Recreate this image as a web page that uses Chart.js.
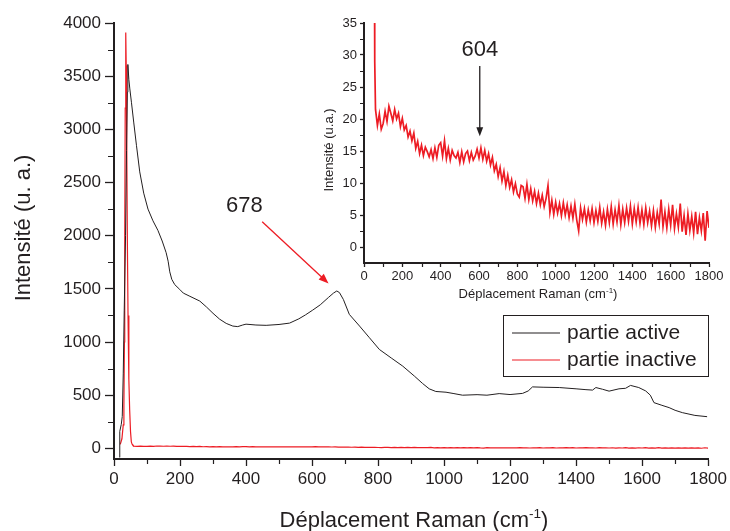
<!DOCTYPE html>
<html>
<head>
<meta charset="utf-8">
<script src="https://cdn.jsdelivr.net/npm/chart.js@4/dist/chart.umd.min.js"></script>
<style>
  body { margin: 0; background: #fff; }
  #wrap { position: relative; width: 730px; height: 531px; }
  #main { position: absolute; left: 0; top: 0; }
  #inset { position: absolute; left: 320px; top: 0; }
</style>
</head>
<body>
<div id="wrap">
  <canvas id="main" width="730" height="531"></canvas>
  <canvas id="inset" width="410" height="310"></canvas>
</div>
<script>
// partie active (black curve)
const activeX = [17, 17.5, 22, 25, 28, 31, 35, 38, 40.5, 42, 45, 48, 53, 60, 68, 78, 90, 103, 118, 133,
  146, 158, 164, 169, 175, 184, 199, 210, 230, 260, 280, 300, 320, 340, 360, 375, 390, 400, 430, 461,
  500, 532, 560, 580, 602, 625, 650, 665, 675, 683, 695, 713, 744, 774, 804, 840, 875, 910, 935, 955,
  975, 1006, 1030, 1056, 1100, 1130, 1167, 1200, 1238, 1255, 1268, 1300, 1349, 1400, 1430, 1450, 1460, 1480, 1500, 1530,
  1550, 1565, 1590, 1611, 1625, 1636, 1660, 1682, 1700, 1722, 1760, 1797];
const activeY = [-85, 160, 225, 300, 700, 1300, 2000, 2800, 3350, 3610, 3470, 3380, 3250, 3060, 2850, 2600, 2400, 2250, 2140, 2050,
  1950, 1840, 1760, 1660, 1590, 1540, 1495, 1460, 1430, 1385, 1330, 1270, 1215, 1175, 1150, 1145, 1160, 1168, 1160, 1157,
  1165, 1178, 1218, 1255, 1300, 1350, 1420, 1460, 1480, 1465, 1400, 1260, 1150, 1040, 930, 850, 773, 680, 610, 560,
  535, 528, 515, 500, 505, 500, 515, 506, 517, 540, 578, 575, 572, 560, 552, 548, 572, 556, 538, 560,
  565, 592, 572, 540, 500, 430, 405, 383, 358, 336, 310, 298];

// partie inactive (red curve): laser peak, then the noisy tail read every 10 cm-1 from 60
const inactivePeakX = [19, 24, 28, 30, 31.5, 32.5, 34, 35.6, 37, 38.5, 40.5, 42.5, 45, 47.5, 50, 52.5, 55, 57];
const inactivePeakY = [38, 90, 220, 400, 1000, 1900, 3200, 3910, 3600, 2900, 1950, 1250, 650, 360, 160, 60, 38, 29];
const inactiveTailStart = 60;
const inactiveTailStep = 10;
const inactiveTailY = [
  21.5, 19.0, 20.8, 18.4, 19.3, 21.2, 19.6, 22.0, 20.9, 19.7,
  21.5, 20.0, 20.9, 18.8, 20.1, 18.3, 19.0, 17.2, 18.1, 16.6,
  17.8, 15.4, 16.5, 14.6, 15.9, 14.3, 15.6, 14.9, 14.1, 15.2,
  13.8, 15.5, 14.0, 15.9, 16.3, 14.2, 16.6, 13.8, 15.4, 13.6,
  15.1, 14.3, 13.9, 14.8, 13.2, 14.9, 13.3, 14.6, 15.0, 13.5,
  14.8, 13.6, 14.2, 15.3, 13.9, 15.5, 13.7, 15.1, 13.4, 14.6,
  12.8, 14.0, 11.9, 12.9, 11.0, 12.4, 10.3, 11.8, 9.6, 11.2,
  9.3, 10.5, 8.6, 9.9, 8.3, 7.8, 9.6, 9.4, 7.6, 9.8,
  7.4, 9.1, 7.2, 8.7, 6.8, 8.4, 6.6, 8.1, 6.3, 7.6,
  9.6, 5.4, 7.3, 5.1, 7.0, 5.3, 6.8, 4.9, 6.9, 5.0,
  6.6, 4.6, 6.4, 4.5, 6.7, 4.2, 2.5, 6.1, 4.3, 6.0,
  3.9, 5.8, 4.1, 6.0, 3.8, 5.7, 4.0, 6.2, 3.7, 5.5,
  3.4, 5.9, 3.8, 6.3, 3.6, 5.8, 3.9, 6.5, 3.5, 5.9,
  3.8, 6.1, 4.0, 6.4, 3.6, 6.0, 3.9, 6.2, 3.7, 5.8,
  3.5, 6.1, 3.8, 5.6, 3.3, 5.7, 3.1, 5.4, 3.6, 7.4,
  3.2, 5.5, 3.0, 5.9, 3.4, 6.6, 2.9, 5.2, 3.1, 6.8,
  2.4, 4.9, 1.9, 5.2, 2.6, 4.8, 2.2, 5.5, 2.0, 4.6,
  2.5, 5.3, 1.0, 5.6, 3.0
];

const xTicks = [0, 200, 400, 600, 800, 1000, 1200, 1400, 1600, 1800];
const xMinor = [100, 300, 500, 700, 900, 1100, 1300, 1500, 1700];
const mainYTicks = [0, 500, 1000, 1500, 2000, 2500, 3000, 3500, 4000];
const mainYMinor = [250, 750, 1250, 1750, 2250, 2750, 3250, 3750];
const insetYTicks = [0, 5, 10, 15, 20, 25, 30, 35];
const insetYMinor = [2.5, 7.5, 12.5, 17.5, 22.5, 27.5, 32.5];

const seriesNames = ['partie active', 'partie inactive'];
const xTitle = ['Déplacement Raman (cm', '-1', ')'];
const mainYTitle = 'Intensité (u. a.)';
const insetYTitle = 'Intensité (u.a.)';

const FONT = '"Liberation Sans", Arial, Helvetica, sans-serif';
const INK = '#231f20';
const RED = '#ed1c24';

const activePoints = activeX.map((x, i) => ({ x: x, y: activeY[i] }));
const inactivePoints = inactivePeakX.map((x, i) => ({ x: x, y: inactivePeakY[i] }))
  .concat(inactiveTailY.map((y, i) => ({ x: inactiveTailStart + i * inactiveTailStep, y: y })));

function axisOpts(min, max, ticks, size, tickLen, pad, fit) {
  return {
    type: 'linear',
    min: min,
    max: max,
    afterBuildTicks: s => { s.ticks = ticks.map(v => ({ value: v })); },
    afterFit: fit,
    ticks: {
      color: INK,
      font: { family: FONT, size: size },
      padding: pad,
      maxRotation: 0,
      autoSkip: false,
      callback: v => String(v)
    },
    grid: { drawOnChartArea: false, drawTicks: true, tickLength: tickLen, tickColor: INK, tickWidth: 1.3 },
    border: { display: true, color: INK, width: 2 }
  };
}

function drawMinor(chart, axis, values, len) {
  const s = chart.scales[axis];
  const a = chart.chartArea;
  const ctx = chart.ctx;
  ctx.save();
  ctx.strokeStyle = INK;
  ctx.lineWidth = 1.2;
  ctx.beginPath();
  values.forEach(v => {
    const p = Math.round(s.getPixelForValue(v)) + 0.5;
    if (axis === 'x') {
      ctx.moveTo(p, a.bottom + 1);
      ctx.lineTo(p, a.bottom + 1 + len);
    } else {
      ctx.moveTo(a.left - 1, p);
      ctx.lineTo(a.left - 1 - len, p);
    }
  });
  ctx.stroke();
  ctx.restore();
}

function drawXTitle(ctx, cx, baseline, size) {
  ctx.save();
  ctx.fillStyle = INK;
  ctx.textBaseline = 'alphabetic';
  ctx.textAlign = 'left';
  const supSize = size * 0.62;
  ctx.font = size + 'px ' + FONT;
  const w1 = ctx.measureText(xTitle[0]).width;
  const w3 = ctx.measureText(xTitle[2]).width;
  ctx.font = supSize + 'px ' + FONT;
  const w2 = ctx.measureText(xTitle[1]).width;
  let x = cx - (w1 + w2 + w3) / 2;
  ctx.font = size + 'px ' + FONT;
  ctx.fillText(xTitle[0], x, baseline);
  ctx.font = supSize + 'px ' + FONT;
  ctx.fillText(xTitle[1], x + w1, baseline - size * 0.42);
  ctx.font = size + 'px ' + FONT;
  ctx.fillText(xTitle[2], x + w1 + w2, baseline);
  ctx.restore();
}

function drawYTitle(ctx, text, cx, cy, size) {
  ctx.save();
  ctx.translate(cx, cy);
  ctx.rotate(-Math.PI / 2);
  ctx.fillStyle = INK;
  ctx.font = size + 'px ' + FONT;
  ctx.textAlign = 'center';
  ctx.textBaseline = 'middle';
  ctx.fillText(text, 0, 0);
  ctx.restore();
}

function drawArrow(ctx, x1, y1, x2, y2, color, head) {
  const ang = Math.atan2(y2 - y1, x2 - x1);
  ctx.save();
  ctx.strokeStyle = color;
  ctx.fillStyle = color;
  ctx.lineWidth = 1.3;
  ctx.beginPath();
  ctx.moveTo(x1, y1);
  ctx.lineTo(x2 - Math.cos(ang) * head * 0.8, y2 - Math.sin(ang) * head * 0.8);
  ctx.stroke();
  ctx.beginPath();
  ctx.moveTo(x2, y2);
  ctx.lineTo(x2 - head * Math.cos(ang) + head * 0.38 * Math.sin(ang), y2 - head * Math.sin(ang) - head * 0.38 * Math.cos(ang));
  ctx.lineTo(x2 - head * Math.cos(ang) - head * 0.38 * Math.sin(ang), y2 - head * Math.sin(ang) + head * 0.38 * Math.cos(ang));
  ctx.closePath();
  ctx.fill();
  ctx.restore();
}

function drawLabel(ctx, text, x, y, size) {
  ctx.save();
  ctx.fillStyle = INK;
  ctx.font = size + 'px ' + FONT;
  ctx.textAlign = 'center';
  ctx.textBaseline = 'alphabetic';
  ctx.fillText(text, x, y);
  ctx.restore();
}

const mainDecor = {
  id: 'mainDecor',
  afterDraw(chart) {
    const ctx = chart.ctx;
    const xs = chart.scales.x, ys = chart.scales.y;
    drawMinor(chart, 'x', xMinor, 4);
    drawMinor(chart, 'y', mainYMinor, 5);
    drawYTitle(ctx, mainYTitle, 24, 228, 22);
    drawXTitle(ctx, 414, 527, 22);

    // annotation for the 678 band
    drawLabel(ctx, '678', xs.getPixelForValue(395), ys.getPixelForValue(2227), 22);
    drawArrow(ctx, xs.getPixelForValue(449), ys.getPixelForValue(2131),
      xs.getPixelForValue(650), ys.getPixelForValue(1551), RED, 10);

    // legend
    ctx.save();
    ctx.strokeStyle = INK;
    ctx.lineWidth = 1;
    ctx.strokeRect(503.5, 315.5, 205, 61);
    ctx.font = '21px ' + FONT;
    ctx.textBaseline = 'middle';
    ctx.textAlign = 'left';
    [INK, RED].forEach((c, i) => {
      const y = 333 + i * 27;
      ctx.strokeStyle = c;
      ctx.lineWidth = 1.2;
      ctx.beginPath();
      ctx.moveTo(512, y);
      ctx.lineTo(560, y);
      ctx.stroke();
      ctx.fillStyle = INK;
      ctx.fillText(seriesNames[i], 567, y);
    });
    ctx.restore();
  }
};

const insetDecor = {
  id: 'insetDecor',
  afterDraw(chart) {
    const ctx = chart.ctx;
    const xs = chart.scales.x, ys = chart.scales.y;
    drawMinor(chart, 'x', xMinor, 3);
    drawMinor(chart, 'y', insetYMinor, 3);
    drawYTitle(ctx, insetYTitle, 9, 150, 13);
    drawXTitle(ctx, 218, 298, 13);
    // annotation for the 604 band
    drawLabel(ctx, '604', xs.getPixelForValue(604), ys.getPixelForValue(29.9), 22);
    drawArrow(ctx, xs.getPixelForValue(604), ys.getPixelForValue(28.3),
      xs.getPixelForValue(604), ys.getPixelForValue(17.3), INK, 9);
  }
};

new Chart(document.getElementById('main'), {
  type: 'line',
  data: {
    datasets: [
      { label: seriesNames[0], data: activePoints, borderColor: INK, borderWidth: 1, pointRadius: 0, tension: 0, fill: false },
      { label: seriesNames[1], data: inactivePoints, borderColor: RED, borderWidth: 1.2, pointRadius: 0, tension: 0, fill: false }
    ]
  },
  options: {
    responsive: false,
    animation: false,
    devicePixelRatio: 1,
    layout: { padding: { top: 23, right: 21, left: 0, bottom: 0 } },
    plugins: { legend: { display: false }, tooltip: { enabled: false } },
    scales: {
      x: axisOpts(0, 1800, xTicks, 17, 7, 3, s => { s.height = 72; }),
      y: axisOpts(-100, 4000, mainYTicks, 17, 9, 4, s => { s.width = 114; })
    }
  },
  plugins: [mainDecor]
});

new Chart(document.getElementById('inset'), {
  type: 'line',
  data: {
    datasets: [
      { label: seriesNames[1], data: inactivePoints, borderColor: RED, borderWidth: 1.7, pointRadius: 0, tension: 0, fill: false }
    ]
  },
  options: {
    responsive: false,
    animation: false,
    devicePixelRatio: 1,
    layout: { padding: { top: 23, right: 21, left: 0, bottom: 0 } },
    plugins: { legend: { display: false }, tooltip: { enabled: false } },
    scales: {
      x: axisOpts(0, 1800, xTicks, 13, 4, 2, s => { s.height = 47; }),
      y: axisOpts(-2.5, 35, insetYTicks, 13, 4, 3, s => { s.width = 44; })
    }
  },
  plugins: [insetDecor]
});
</script>
</body>
</html>
